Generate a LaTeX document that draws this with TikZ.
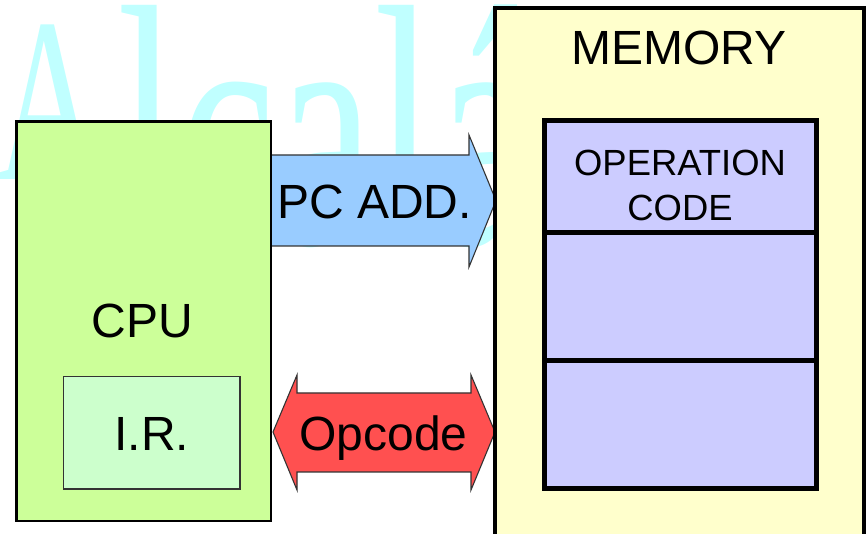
\documentclass[tikz,border=0pt]{standalone}
\usepackage{fontspec}
\setmainfont{Liberation Sans}
\newfontfamily\wmfont{Liberation Serif}
\definecolor{wmcyan}{RGB}{192,255,255}
\definecolor{cpugreen}{RGB}{204,255,153}
\definecolor{irgreen}{RGB}{204,255,204}
\definecolor{pcblue}{RGB}{153,204,255}
\definecolor{opred}{RGB}{255,80,80}
\definecolor{memyellow}{RGB}{255,255,204}
\definecolor{cellviolet}{RGB}{204,204,255}
\definecolor{edgegray}{RGB}{51,51,51}
\begin{document}
\begin{tikzpicture}[x=1pt,y=-1pt,
  box/.style={rectangle, inner sep=0, outer sep=0},
  label/.style={inner sep=0, outer sep=0, anchor=base, font=\fontsize{48}{48}\selectfont},
  small/.style={inner sep=0, outer sep=0, anchor=base, font=\fontsize{36.4}{36.4}\selectfont},
  blockarrow/.style={draw=edgegray, line width=1.1pt, line join=miter}]
\useasboundingbox (0,0) rectangle (868,534);
\clip (0,0) rectangle (868,534);

% background lettering (the capital is set narrower and higher)
\node[anchor=base west, inner sep=0, text=wmcyan] (wm) at (-4,245)
  {\wmfont\fontsize{221}{221}\selectfont
   \raisebox{65pt}{\scalebox{0.656}[1.06]{A}}\kern16.3pt\scalebox{1}[1.56]{lcalá}};

% address bus arrow: CPU -> memory
\coordinate (pctail) at (271,200.5);
\coordinate (pctip) at (496,200.5);
\path[blockarrow, fill=pcblue]
  (271,155) -- (469,155) -- (469,135) -- (pctip) -- (469,267)
  -- (469,246) -- (271,246) -- cycle;
\node[label] (pclabel) at (374.5,219) {PC ADD.};

% data bus arrow: CPU <-> memory
\coordinate (opleft) at (273,432);
\coordinate (opright) at (495,432);
\path[blockarrow, fill=opred]
  (opleft) -- (297,375) -- (297,393) -- (471,393) -- (471,375) -- (opright)
  -- (471,490) -- (471,472) -- (297,472) -- (297,490) -- cycle;
\node[label] (oplabel) at (383.5,451) {Opcode};

% processor
\node[box, draw=black, line width=2.6pt, fill=cpugreen,
  minimum width=254.8pt, minimum height=399.5pt] (cpu) at (143.6,321.45) {};
\node[label] (cpulabel) at (142.5,337.5) {CPU};
\node[box, draw=edgegray, line width=1.4pt, fill=irgreen,
  minimum width=176.5pt, minimum height=112.4pt] (ir) at (151.75,433) {};
\node[label] (irlabel) at (151.7,451) {I.R.};

% memory
\node[box, draw=black, line width=4.2pt, fill=memyellow,
  minimum width=368.5pt, minimum height=561.7pt] (mem) at (679.55,289.15) {};
\node[label] (memlabel) at (679,65) {MEMORY};
\node[box, draw=black, line width=5pt, fill=cellviolet,
  minimum width=272pt, minimum height=112pt] (cell1) at (680,177) {};
\node[box, draw=black, line width=5pt, fill=cellviolet,
  minimum width=272pt, minimum height=128pt] (cell2) at (680,297) {};
\node[box, draw=black, line width=5pt, fill=cellviolet,
  minimum width=272pt, minimum height=128pt] (cell3) at (680,425) {};
\node[small] (opc1) at (680,176) {OPERATION};
\node[small] (opc2) at (680,221) {CODE};
\end{tikzpicture}
\end{document}
